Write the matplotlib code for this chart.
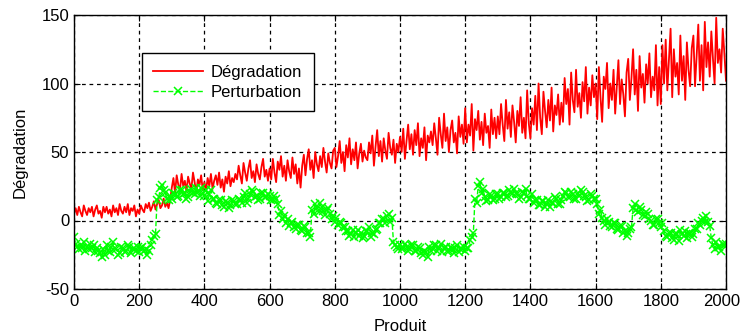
import matplotlib
matplotlib.use('Agg')
import matplotlib.pyplot as plt
import matplotlib.transforms as mtransforms

plt.rcParams['font.family'] = ['Liberation Sans', 'DejaVu Sans']
plt.rcParams['axes.unicode_minus'] = False

# product index, one reading every 5 products
produit = list(range(0, 2001, 5))

degradation = [
    5, 9, 4, 10, 6, 3, 11, 7, 4, 9, 6, 10, 3, 8, 11, 5, 7, 2, 10, 6,
    10, 5, 8, 3, 11, 6, 9, 4, 12, 7, 5, 10, 6, 12, 4, 9, 7, 11, 3, 8,
    5, 11, 8, 6, 12, 9, 13, 7, 10, 14, 8, 12, 15, 9, 11, 16, 10, 13, 9, 15,
    24, 31, 20, 33, 26, 22, 34, 25, 29, 21, 32, 27, 23, 35, 28, 20, 30, 26, 33, 22,
    28, 22, 31, 25, 34, 23, 29, 33, 26, 35, 24, 30, 21, 32, 27, 36, 25, 31, 28, 34,
    30, 40, 33, 27, 42, 35, 29, 38, 44, 31, 36, 28, 41, 34, 30, 39, 45, 32, 37, 29,
    38, 30, 45, 35, 28, 43, 37, 47, 32, 40, 29, 44, 36, 31, 46, 34, 41, 27, 38, 24,
    40, 48, 33, 45, 52, 37, 44, 31, 50, 41, 36, 47, 39, 53, 43, 35, 49, 42, 38, 51,
    53, 39, 47, 58, 42, 50, 36, 55, 46, 60, 41, 52, 44, 57, 38, 49, 56, 43, 51, 46,
    44, 57, 49, 62, 40, 54, 66, 47, 58, 43, 60, 51, 45, 64, 53, 48, 59, 42, 56, 50,
    61, 50, 67, 45, 58, 70, 52, 63, 48, 66, 55, 71, 47, 60, 53, 68, 44, 62, 57, 65,
    55, 71, 60, 48, 75, 63, 53, 78, 58, 68, 50, 66, 73, 57, 64, 49, 76, 61, 70, 56,
    82, 57, 70, 62, 85, 51, 74, 66, 80, 59, 72, 55, 78, 64, 69, 53, 81, 63, 75, 60,
    76, 63, 85, 70, 58, 88, 67, 79, 61, 84, 72, 57, 80, 69, 90, 64, 75, 60, 95, 71,
    60, 82, 70, 91, 66, 100, 75, 63, 94, 80, 68, 88, 73, 97, 65, 84, 77, 92, 70, 86,
    72, 104, 85, 96, 70, 108, 88, 79, 110, 83, 93, 75, 101, 87, 112, 78, 97, 84, 106, 90,
    100, 74, 112, 90, 72, 105, 96, 115, 82, 100, 88, 110, 78, 98, 117, 85, 103, 92, 76, 108,
    118, 88, 104, 125, 92, 110, 80, 120, 97, 107, 86, 114, 100, 122, 90, 105, 95, 128, 84, 112,
    85, 128, 100, 132, 95, 118, 140, 90, 125, 105, 115, 92, 135, 102, 120, 88, 130, 110, 98, 126,
    135, 98, 120, 143, 102, 128, 95, 145, 112, 130, 105, 138, 118, 100, 148, 115, 125, 108, 140, 122,
    102,
]

perturbation = [
    -12, -17, -19, -21, -18, -20, -16, -22, -19, -21, -17, -20, -18, -23, -20, -22, -24, -27, -21, -25,
    -18, -22, -23, -19, -16, -20, -21, -25, -24, -19, -20, -23, -22, -18, -19, -24, -21, -20, -22, -19,
    -23, -20, -19, -22, -21, -25, -22, -18, -14, -11, -10, 15, 17, 24, 26, 22, 20, 16, 15, 18,
    16, 20, 19, 17, 18, 22, 22, 19, 20, 16, 17, 21, 23, 20, 19, 24, 21, 18, 24, 20,
    18, 22, 14, 19, 22, 16, 16, 13, 12, 15, 15, 11, 10, 14, 13, 9, 11, 15, 14, 12,
    12, 16, 15, 13, 17, 20, 13, 16, 19, 22, 21, 17, 18, 15, 16, 20, 20, 17, 17, 19,
    18, 15, 15, 18, 16, 12, 4, 7, 1, 3, -2, 1, -4, -2, -1, -5, -6, -3, -3, -7,
    -8, -4, -5, -9, -9, -12, 8, 5, 12, 9, 6, 13, 10, 7, 4, 8, 9, 5, 1, 3,
    -1, 2, -3, -1, -2, -5, -5, -8, -8, -11, -10, -7, -12, -9, -7, -11, -9, -13, -11, -8,
    -8, -5, -12, -9, -10, -7, -6, -2, -2, 1, 1, -2, 3, 5, -1, 2, -16, -18, -19, -21,
    -18, -21, -20, -17, -19, -22, -21, -18, -18, -22, -22, -19, -20, -24, -25, -22, -23, -27, -19, -22,
    -21, -18, -18, -22, -20, -17, -23, -20, -19, -22, -22, -19, -21, -24, -20, -18, -23, -21, -21, -19,
    -22, -20, -20, -14, -12, -9, 16, 13, 25, 28, 20, 23, 17, 14, 15, 19, 18, 15, 16, 19,
    19, 16, 17, 20, 20, 17, 18, 22, 21, 19, 23, 20, 19, 16, 17, 21, 20, 23, 18, 16,
    16, 19, 13, 15, 15, 11, 11, 14, 14, 10, 12, 15, 10, 13, 13, 17, 16, 12, 12, 15,
    18, 21, 20, 17, 17, 21, 19, 16, 16, 20, 18, 22, 21, 18, 17, 14, 15, 19, 18, 16,
    16, 12, 5, 8, 2, 0, -3, 1, -1, -4, -5, -2, -2, -6, -7, -4, -4, -9, -8, -11,
    -9, -6, -5, 9, 12, 8, 6, 10, 8, 4, 3, 6, 5, 1, 0, -3, -3, 1, 1, -2,
    -5, -2, -8, -11, -12, -9, -9, -13, -14, -10, -10, -15, -7, -10, -11, -8, -13, -9, -9, -12,
    -10, -6, -6, -2, -3, 0, 2, -1, 3, -1, -4, -13, -18, -21, -16, -19, -19, -22, -17, -18,
    -17,
]

fig = plt.figure(figsize=(7.42, 3.35), dpi=100)
ax = fig.add_axes([74 / 742, 1 - 289 / 335, 652 / 742, 274 / 335])

ax.plot(produit, degradation, '-', color=(1, 0, 0), linewidth=1.3,
        label='Dégradation')
ax.plot(produit, perturbation, '--', color=(0, 1, 0), linewidth=1,
        marker='x', markersize=5.5, markeredgewidth=1.1, label='Perturbation')

ax.set_xlim(0, 2000)
ax.set_ylim(-50, 150)
ax.set_xticks(range(0, 2001, 200))
ax.set_yticks(range(-50, 151, 50))
ax.tick_params(direction='in', top=True, right=True, labelsize=12, length=4)
ax.grid(True, color='black', linestyle=(0, (3, 3)), linewidth=0.9)
for s in ax.spines.values():
    s.set_linewidth(1)

# keep the last x tick label inside the figure
last = ax.get_xticklabels()[-1]
last.set_transform(last.get_transform() +
                   mtransforms.ScaledTranslation(-3 / 72, 0, fig.dpi_scale_trans))

ax.set_xlabel('Produit', fontsize=12, labelpad=7)
ax.set_ylabel('Dégradation', fontsize=12, labelpad=10)

leg = ax.legend(loc='upper left', bbox_to_anchor=(0.104, 0.861), fontsize=12,
                fancybox=False, framealpha=1, edgecolor='black',
                handlelength=3.0, handletextpad=0.45, numpoints=1,
                borderaxespad=0, borderpad=0.7, labelspacing=0.3)
leg.get_frame().set_linewidth(1)

fig.savefig('out.png', dpi=100)
plt.close(fig)
